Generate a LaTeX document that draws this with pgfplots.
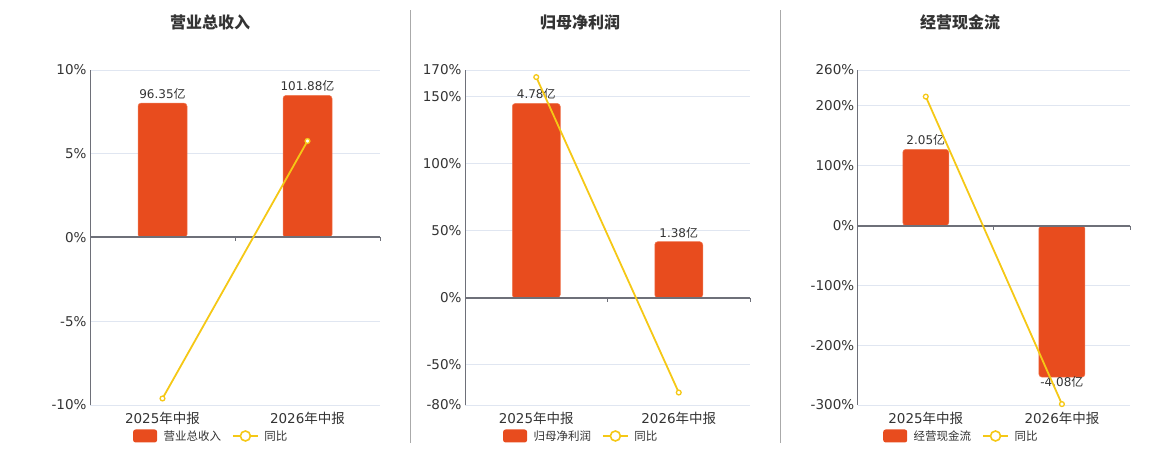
\documentclass[border=0pt]{standalone}
\usepackage{pgfplots}
\pgfplotsset{compat=1.18}
\usepackage{fontspec}
\setmainfont{DejaVu Sans}
\newfontfamily\cjk{Noto Sans CJK SC}
\definecolor{barc}{HTML}{E84C1E}
\definecolor{barl}{HTML}{F07A55}
\definecolor{linec}{HTML}{F5C816}
\definecolor{gridc}{HTML}{E0E6F1}
\definecolor{axc}{HTML}{6E7079}
\definecolor{txt}{HTML}{333333}
\definecolor{sepc}{HTML}{AAAAAA}
\newcommand{\fs}[1]{\fontsize{#1bp}{#1bp}\selectfont}
\pgfplotsset{
  panel/.style n args={4}{at={(#1bp,45bp)}, anchor=south west, width=#2bp, height=335bp,
    scale only axis, xmin=-0.5, xmax=1.5, ymin=#3, ymax=#4, clip=false},
  base/.style={axis lines=left, axis line style={-, draw=axc, line width=0.8bp},
    x axis line style={draw=none},
    ymajorgrids, grid style={gridc, line width=0.8bp},
    major tick length=0pt,
    xtick={0,1}, xticklabels={2025{\cjk 年中报},2026{\cjk 年中报}},
    tick label style={font=\fs{13.5}, text=txt},
    xticklabel style={yshift=-4bp}},
  bars/.style={ybar, bar width=#1bp, bar shift=0pt, fill=barc, draw=barl, line width=0.5bp,
    rounded corners=3bp,
    nodes near coords={\pgfplotspointmeta{\cjk 亿}}, point meta=explicit symbolic,
    every node near coord/.append style={font=\fs{12}, text=txt},
    legend image code/.code={\fill[barc, draw=none, rounded corners=2.5bp] (0bp,-6.5bp) rectangle (24bp,6.5bp);
      \path[draw=none, fill=none] (0bp,0bp) -- (28.5bp,0bp);}},
  negbar/.style={every node near coord/.append style={anchor=north, yshift=4bp}, forget plot},
  lgd/.style={legend columns=2, legend cell align=left,
    legend style={at={(#1,-0.0925)}, anchor=west, draw=none, fill=none, inner sep=0pt,
      font=\fs{11.5}, text=txt, /tikz/every even column/.append style={column sep=9bp}}},
  yoy/.style={linec, line width=1.8bp, mark=*, mark size=2.4bp,
    mark options={fill=white, draw=linec, line width=1.3bp}},
  yoyimg/.style={legend image code/.code={\draw[linec, line width=1.6bp] (0bp,0bp) -- (25bp,0bp);
      \draw[linec, line width=1.6bp, fill=white] (12.5bp,0bp) circle (5bp);
      \path[draw=none, fill=none] (0bp,0bp) -- (29.5bp,0bp);}},
}
\begin{document}
\begin{tikzpicture}
\useasboundingbox (0,0) rectangle (1160bp,450bp);
% separators
\draw[sepc, line width=1bp] (410bp,7bp) -- (410bp,440bp);
\draw[sepc, line width=1bp] (780bp,7bp) -- (780bp,440bp);
% titles
\node[font=\cjk\bfseries\fs{16}, text=txt] at (210bp,428bp) {营业总收入};
\node[font=\cjk\bfseries\fs{16}, text=txt] at (580bp,428bp) {归母净利润};
\node[font=\cjk\bfseries\fs{16}, text=txt] at (960bp,428bp) {经营现金流};

% ================= Panel 1 =================
\begin{axis}[panel={90}{290}{-10}{10}, base,
  ytick={-10,-5,0,5,10}, yticklabels={-10\%,-5\%,0\%,5\%,10\%}]
\end{axis}
\begin{axis}[panel={90}{290}{-120.1}{120.1}, hide axis, lgd=0.148]
\addplot[bars=49] coordinates {(0,96.35) [96.35] (1,101.88) [101.88]};
\addlegendentry{{\cjk 营业总收入}}
\addlegendimage{yoyimg}
\addlegendentry{{\cjk 同比}}
\end{axis}
\begin{axis}[panel={90}{290}{-10}{10}, hide axis]
\draw[axc, line width=2bp] (axis cs:-0.5,0) -- (axis cs:1.5,0);
\draw[axc, line width=0.8bp] (axis cs:0.5,0) -- ++(0pt,-4bp);
\draw[axc, line width=0.8bp] (axis cs:1.5,0) -- ++(0pt,-4bp);
\addplot[yoy] coordinates {(0,-9.61) (1,5.76)};
\end{axis}

% ================= Panel 2 =================
\begin{axis}[panel={465}{285}{-80}{170}, base,
  ytick={-80,-50,0,50,100,150,170}, yticklabels={-80\%,-50\%,0\%,50\%,100\%,150\%,170\%}]
\end{axis}
\begin{axis}[panel={465}{285}{-2.637}{5.603}, hide axis, lgd=0.133]
\addplot[bars=48] coordinates {(0,4.78) [4.78] (1,1.38) [1.38]};
\addlegendentry{{\cjk 归母净利润}}
\addlegendimage{yoyimg}
\addlegendentry{{\cjk 同比}}
\end{axis}
\begin{axis}[panel={465}{285}{-80}{170}, hide axis]
\draw[axc, line width=2bp] (axis cs:-0.5,0) -- (axis cs:1.5,0);
\draw[axc, line width=0.8bp] (axis cs:0.5,0) -- ++(0pt,-4bp);
\draw[axc, line width=0.8bp] (axis cs:1.5,0) -- ++(0pt,-4bp);
\addplot[yoy] coordinates {(0,164.7) (1,-70.7)};
\end{axis}

% ================= Panel 3 =================
\begin{axis}[panel={857.7}{272.3}{-300}{260}, base,
  ytick={-300,-200,-100,0,100,200,260}, yticklabels={-300\%,-200\%,-100\%,0\%,100\%,200\%,260\%}]
\end{axis}
\begin{axis}[panel={857.7}{272.3}{-4.83}{4.186}, hide axis, lgd=0.093]
\addplot[bars=46] coordinates {(0,2.05) [2.05]};
\addlegendentry{{\cjk 经营现金流}}
\addplot[bars=46, negbar] coordinates {(1,-4.08) [-4.08]};
\addlegendimage{yoyimg}
\addlegendentry{{\cjk 同比}}
\end{axis}
\begin{axis}[panel={857.7}{272.3}{-300}{260}, hide axis]
\draw[axc, line width=2bp] (axis cs:-0.5,0) -- (axis cs:1.5,0);
\draw[axc, line width=0.8bp] (axis cs:0.5,0) -- ++(0pt,-4bp);
\draw[axc, line width=0.8bp] (axis cs:1.5,0) -- ++(0pt,-4bp);
\addplot[yoy] coordinates {(0,215.5) (1,-298.5)};
\end{axis}
\end{tikzpicture}
\end{document}
